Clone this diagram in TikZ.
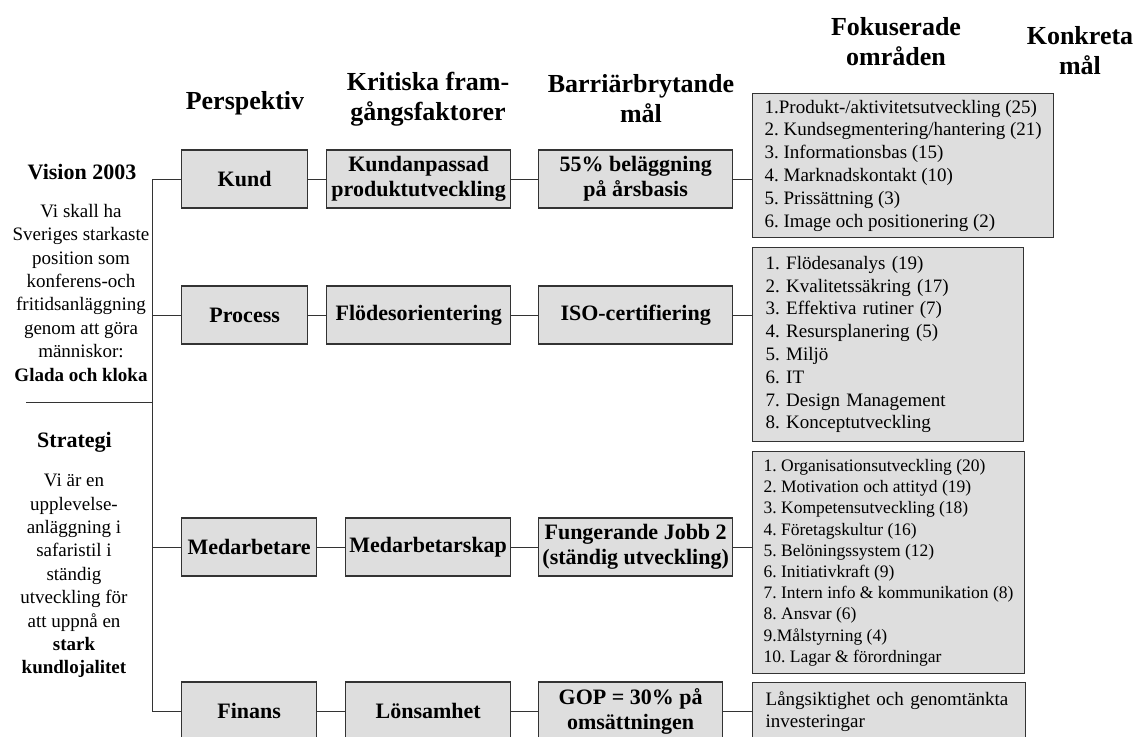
\documentclass[tikz,border=0pt]{standalone}
\usepackage{fontspec}
\setmainfont{Liberation Serif}
\usetikzlibrary{positioning}
\definecolor{boxgray}{HTML}{DEDEDE}
\frenchspacing

\begin{document}
\begin{tikzpicture}[
  x=1pt, y=-1pt,
  every node/.style={inner sep=0pt},
  head/.style={font=\fontsize{26}{30}\selectfont\bfseries, align=center},
  sidehead/.style={font=\fontsize{22}{26}\selectfont\bfseries},
  side/.style={font=\fontsize{19}{23.4}\selectfont, align=center, anchor=north},
  box/.style={rectangle, draw=black!80, line width=1.3pt, fill=boxgray, minimum height=58pt, anchor=west, align=center, font=\fontsize{22}{25}\selectfont\bfseries},
  listbox/.style={rectangle, draw=black!80, line width=1.3pt, fill=boxgray, anchor=north west, align=left, inner xsep=13pt, font=\fontsize{19}{22.8}\selectfont},
  link/.style={draw=black!80, line width=1pt}
]
\useasboundingbox (0,0) rectangle (1134,736);

% Column headers
\node[head] (hpersp) at (245,103) {Perspektiv};
\node[head] (hcsf) at (428,99) {Kritiska fram-\\gångsfaktorer};
\node[head] (hgoal) at (641,99) {Barriärbrytande\\mål};
\node[head] (hfocus) at (896,42) {Fokuserade\\områden};
\node[head] (hconc) at (1080,51) {Konkreta\\mål};

% Vision and strategy
\node[sidehead] (vision) at (82,172) {Vision 2003};
\node[side] (visiontxt) at (81,204) {Vi skall ha\\Sveriges starkaste\\position som\\konferens-och\\fritidsanläggning\\genom att göra\\människor:\\\textbf{Glada och kloka}};
\node[sidehead] (strategy) at (74.5,442) {Strategi};
\node[side] (strategytxt) at (74,474) {Vi är en\\upplevelse-\\anläggning i\\safaristil i\\ständig\\utveckling för\\att uppnå en\\\textbf{stark}\\\textbf{kundlojalitet}};

% Kund
\node[box, minimum width=126pt] (kund) at (181,179) {Kund};
\node[box, minimum width=184pt] (kundcsf) at (326,179) {Kundanpassad\\produktutveckling};
\node[box, minimum width=194pt] (kundgoal) at (538,179) {55\% beläggning\\på årsbasis};
\node[listbox, inner xsep=12pt, minimum height=144pt] (kundfocus) at (752,93) {
  1.Produkt-/aktivitetsutveckling (25)\\
  2. Kundsegmentering/hantering (21)\\
  3. Informationsbas (15)\\
  4. Marknadskontakt (10)\\
  5. Prissättning (3)\\
  6. Image och positionering (2)};

% Process
\node[box, minimum width=126pt] (process) at (181,315) {Process};
\node[box, minimum width=184pt] (processcsf) at (326,315) {Flödesorientering};
\node[box, minimum width=194pt] (processgoal) at (538,315) {ISO-certifiering};
\node[listbox, text width=245pt, minimum height=194pt] (processfocus) at (752,247) {
  1. Flödesanalys (19)\\
  2. Kvalitetssäkring (17)\\
  3. Effektiva rutiner (7)\\
  4. Resursplanering (5)\\
  5. Miljö\\
  6. IT\\
  7. Design Management\\
  8. Konceptutveckling};

% Medarbetare
\node[box, minimum width=135pt] (medarb) at (181,547) {Medarbetare};
\node[box, minimum width=165pt] (medarbcsf) at (345,547) {Medarbetarskap};
\node[box, minimum width=194pt] (medarbgoal) at (538,547) {Fungerande Jobb 2\\(ständig utveckling)};
\node[listbox, inner xsep=11pt, minimum width=271pt, minimum height=222pt, font=\fontsize{17.5}{21.2}\selectfont] (medarbfocus) at (752,451) {
  1. Organisationsutveckling (20)\\
  2. Motivation och attityd (19)\\
  3. Kompetensutveckling (18)\\
  4. Företagskultur (16)\\
  5. Belöningssystem (12)\\
  6. Initiativkraft (9)\\
  7. Intern info \& kommunikation (8)\\
  8. Ansvar (6)\\
  9.Målstyrning (4)\\
  10. Lagar \& förordningar};

% Finans
\node[box, minimum width=135pt] (finans) at (181,711) {Finans};
\node[box, minimum width=165pt] (finanscsf) at (345,711) {Lönsamhet};
\node[box, minimum width=184pt] (finansgoal) at (538,711) {GOP = 30\% på\\omsättningen};
\node[listbox, text width=247pt, minimum height=58pt] (finansfocus) at (752,682) {
  Långsiktighet och genomtänkta\\
  investeringar};

% Trunk and separator
\coordinate (trunk) at (152,179);
\coordinate (sepend) at (26,402);
\draw[link] (kund.west) -- (trunk) |- (finans.west);
\draw[link] (process.west) -- (process.west -| trunk);
\draw[link] (medarb.west) -- (medarb.west -| trunk);
\draw[link] (sepend) -- (sepend -| trunk);

% Row links
\draw[link] (kund) -- (kundcsf);
\draw[link] (kundcsf) -- (kundgoal);
\draw[link] (kundgoal.east) -- (kundgoal.east -| kundfocus.west);
\draw[link] (process) -- (processcsf);
\draw[link] (processcsf) -- (processgoal);
\draw[link] (processgoal.east) -- (processgoal.east -| processfocus.west);
\draw[link] (medarb) -- (medarbcsf);
\draw[link] (medarbcsf) -- (medarbgoal);
\draw[link] (medarbgoal.east) -- (medarbgoal.east -| medarbfocus.west);
\draw[link] (finans) -- (finanscsf);
\draw[link] (finanscsf) -- (finansgoal);
\draw[link] (finansgoal.east) -- (finansgoal.east -| finansfocus.west);

\end{tikzpicture}
\end{document}
